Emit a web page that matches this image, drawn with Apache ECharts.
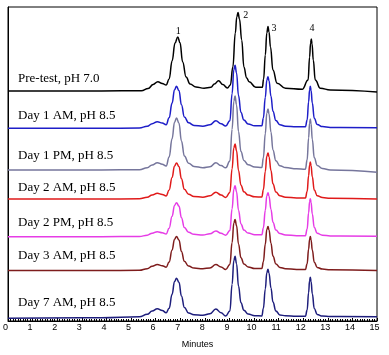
<!DOCTYPE html>
<html><head><meta charset="utf-8">
<script src="https://cdn.jsdelivr.net/npm/echarts@6/dist/echarts.min.js"></script>
<style>html,body{margin:0;padding:0;background:#fff}#c{width:389px;height:355px}</style>
</head><body><div id="c"></div>
<script>
// Trace names (as labelled in the chart)
const traceNames = ['Pre-test, pH 7.0','Day 1 AM, pH 8.5','Day 1 PM, pH 8.5','Day 2 AM, pH 8.5','Day 2 PM, pH 8.5','Day 3 AM, pH 8.5','Day 7 AM, pH 8.5'];
const peakNames = ['1','2','3','4'];
const xTicks = [0,1,2,3,4,5,6,7,8,9,10,11,12,13,14,15];

// Stacking offset (baseline) for each trace, in signal units
const baselines = [230, 192.7, 151, 122, 84.3, 50.5, 2.7];

// Pre-test sampling times (minutes) and signal above its baseline
const pretestMinutes = [0,3.80,5.42,5.70,5.90,6.09,6.27,6.43,6.55,6.67,6.79,6.90,6.99,7.10,7.24,7.40,7.64,7.97,8.25,8.39,8.56,8.73,8.92,9.04,9.14,9.24,9.30,9.35,9.41,9.50,9.59,9.70,9.80,10.07,10.34,10.39,10.46,10.52,10.57,10.61,10.67,10.77,10.94,11.28,11.96,12.20,12.26,12.30,12.33,12.36,12.41,12.49,12.70,13.10,15.0];
const pretest = [0,0,0.3,2.5,6.5,9.3,7.5,6,12,30,48,54,48.5,29,14,7,4,2.8,3.7,7,10.3,6.5,3,6,24,58,74,78.5,72,51,24,13,9.3,3.7,3.7,12,36,58,64.5,59,44,21,7.7,2.7,1.7,11,34,48,52,47,31,11,2.7,1,-1];

// Sampling times (minutes) shared by the pH 8.5 traces
const minutes = [0,3.80,5.34,5.66,5.86,6.07,6.27,6.43,6.55,6.67,6.77,6.85,6.95,7.05,7.17,7.34,7.56,7.92,8.21,8.45,8.66,8.85,9.02,9.11,9.18,9.23,9.29,9.37,9.47,9.59,9.76,10.03,10.32,10.38,10.46,10.52,10.57,10.61,10.69,10.77,10.89,11.05,11.28,11.73,12.09,12.16,12.22,12.26,12.29,12.32,12.37,12.45,12.57,12.78,13.10,15.0];
const day1am = [0,0,0.3,2.0,4.6,6.6,5.3,3.6,10.5,25.2,38.6,42,37.8,23.5,11.3,5.5,2.9,2.1,3.5,7.6,4.6,2.3,7.6,34.7,58.6,63,55.4,32.8,15.8,8.2,4.4,2.5,2.6,10.3,31,48,51.6,47.5,32,17,7.7,3.6,2.1,1.5,1.5,8.4,26.5,38.6,42,37.8,25.2,10.1,3.8,1.7,0.8,0.6];
const day1pm = [0,0,0.3,2.2,5.1,7.3,5.8,4.0,13,31.2,47.8,52,46.8,29.1,14,6.8,3.6,2.3,3.3,7.3,4.4,2.2,8.9,40.7,68.8,74,65.1,38.5,18.5,9.6,5.2,3,2.5,12.2,36.6,56.7,61,56.1,37.8,20.1,9.2,4.3,2.4,1.2,0.8,10.2,32.1,46.9,51,45.9,30.6,12.2,4.6,1.5,0,-2.3];
const day2am = [0,0,0.2,1.7,4,5.7,4.6,3.1,9,21.6,33.1,36,32.4,20.2,9.7,4.7,2.5,1.8,3.2,6.7,4,1.5,6.6,30.3,51.2,55,48.4,28.6,13.8,7.2,3.9,2.2,2,9.2,27.6,42.8,46,42.3,28.5,15.2,6.9,3.2,1.8,1,1,7.4,23.3,34,37,33.3,22.2,8.9,3.3,1.5,0.7,0];
const day2pm = [0,0,0.2,1.5,3.5,5,4,2.7,8.5,20.4,31.3,34,30.6,19,9.2,4.4,2.4,1.7,2.9,5.7,3.4,1.5,6.1,28,47.4,51,44.9,26.5,12.8,6.6,3.6,2,2,8.8,26.4,40.9,44,40.5,27.3,14.5,6.6,3.1,1.8,1,1,7.6,23.9,35,38,34.2,22.8,9.1,3.4,1.5,0.8,0.5];
const day3am = [0,0,0.2,1.8,4.2,6,4.8,3.3,8.5,20.4,31.3,34,30.6,19,9.2,4.4,2.4,1.7,2.6,6,3.6,1,6.1,28,47.4,51,44.9,26.5,12.8,6.6,3.6,2,2,8.8,26.4,40.9,44,40.5,27.3,14.5,6.6,3.1,1.8,1,1,6.8,21.4,31.3,34,30.6,20.4,8.2,3.1,1.4,0.7,0];
const day7am = [0,0.5,1.5,4,7.2,9.6,7.8,5.6,10,24,36.8,40,36,22.4,10.8,5.2,3.5,3,4.5,9.3,5.6,2.3,7.4,34.1,57.7,62,54.6,32.2,15.5,8.1,4.3,2.6,2.3,9.8,29.4,45.6,49,45.1,30.4,16.2,7.4,3.4,2.5,2,2,8.2,25.8,37.7,41,36.9,24.6,9.8,3.7,2.2,1.8,1.6];

const traces = [
  [pretestMinutes, pretest],
  [minutes, day1am],
  [minutes, day1pm],
  [minutes, day2am],
  [minutes, day2pm],
  [minutes, day3am],
  [minutes, day7am]
];
const colors = ['#000000','#1e1ec8','#76769c','#e01a1a','#e63ce6','#7e1c1c','#1e1e7c'];

// Layout (pixels)
const nameLabelY = [80, 117.5, 157.5, 189, 224, 257.5, 304];
const peakLabelPos = [[178.3,31.7],[245.7,15.7],[274,28.3],[312,28.3]];

const chart = echarts.init(document.getElementById('c'), null, {renderer:'canvas'});
const series = traces.map((tr, k) => ({
  type:'line', name: traceNames[k],
  data: tr[0].map((t,i) => [t, tr[1][i] + baselines[k]]),
  smooth: 0.45, smoothMonotone:'x', showSymbol:false, symbol:'none',
  lineStyle:{color: colors[k], width:1.5}, z: 10 - k
}));
const graphics = [];
traceNames.forEach((n,k) => graphics.push({
  type:'text', left:18, top: nameLabelY[k] - 8, z:100,
  style:{text:n, fill:'#000', font:'13px "Liberation Serif", "Times New Roman", serif'}
}));
peakNames.forEach((n,k) => graphics.push({
  type:'text', x: peakLabelPos[k][0], y: peakLabelPos[k][1], z:100,
  style:{text:n, fill:'#000', font:'10px "Liberation Serif", serif', align:'center', verticalAlign:'middle'}
}));

chart.setOption({
  animation:false,
  backgroundColor:'#fff',
  grid:{left:6, right:12, top:7, bottom:34, show:true, borderColor:'#000', borderWidth:1, backgroundColor:'transparent'},
  xAxis:{
    type:'value', min:xTicks[0], max:xTicks[xTicks.length-1], interval:1,
    axisLine:{show:true, onZero:false, lineStyle:{color:'#000', width:1}},
    axisTick:{show:true, inside:true, length:3, lineStyle:{color:'#000'}},
    minorTick:{show:true, splitNumber:10, length:2, lineStyle:{color:'#000'}},
    splitLine:{show:false},
    axisLabel:{color:'#000', fontSize:9, fontFamily:'"Liberation Sans", Arial, sans-serif', margin:2, padding:[0,5,0,0]},
    name:'Minutes', nameLocation:'middle', nameGap:19,
    nameTextStyle:{color:'#000', fontSize:9, fontFamily:'"Liberation Sans", Arial, sans-serif', padding:[0,0,0,10]}
  },
  yAxis:{
    type:'value', min:0, max:314,
    axisLine:{show:true, lineStyle:{color:'#000'}},
    axisTick:{show:false}, axisLabel:{show:false}, splitLine:{show:false}
  },
  series: series,
  graphic: graphics
});
</script></body></html>
